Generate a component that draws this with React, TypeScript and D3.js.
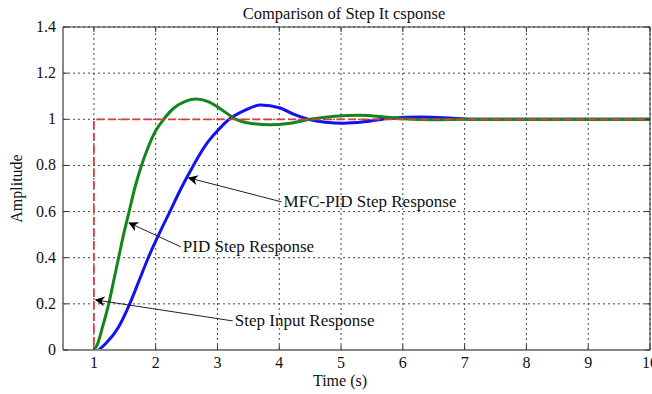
import React from 'react';
import * as d3 from 'd3';

// values
const stepT = [0.5, 1, 1, 10];
const stepV = [0, 0, 1, 1];

const pidT = [1.0, 1.05, 1.14, 1.24, 1.32, 1.40, 1.48, 1.57, 1.66, 1.77, 1.88, 2.0, 2.13, 2.3, 2.48, 2.65, 2.85, 3.05, 3.3, 3.55, 3.85, 4.15, 4.5, 4.9, 5.3, 5.7, 6.0, 6.5, 7.0, 10];
const pidV = [0, 0.02, 0.1, 0.2, 0.3, 0.4, 0.5, 0.6, 0.7, 0.8, 0.88, 0.95, 1.0, 1.05, 1.078, 1.088, 1.077, 1.045, 1.0, 0.982, 0.976, 0.982, 1.0, 1.013, 1.017, 1.01, 1.002, 0.998, 1.0, 1.0];

const mfcT = [1.08, 1.2, 1.4, 1.58, 1.73, 1.88, 2.05, 2.23, 2.41, 2.61, 2.8, 3.0, 3.19, 3.45, 3.7, 4.0, 4.25, 4.47, 4.75, 5.04, 5.4, 5.8, 6.3, 6.8, 7.2, 10];
const mfcV = [0, 0.03, 0.1, 0.2, 0.3, 0.4, 0.5, 0.6, 0.7, 0.8, 0.885, 0.95, 1.0, 1.04, 1.062, 1.05, 1.02, 1.0, 0.987, 0.983, 0.99, 1.005, 1.01, 1.005, 1.0, 1.0];

const xTicks = [1, 2, 3, 4, 5, 6, 7, 8, 9, 10];
const yTicks = [0, 0.2, 0.4, 0.6, 0.8, 1, 1.2, 1.4];

// annotation: label, arrow tip (t, v), label anchor (t, v)
const notes = [
  { label: 'MFC-PID Step Response', tip: [2.535, 0.746], at: [4.07, 0.642] },
  { label: 'PID Step Response', tip: [1.57, 0.551], at: [2.44, 0.447] },
  { label: 'Step Input Response', tip: [1.03, 0.217], at: [3.28, 0.126] },
];

const W = 652;
const H = 394;
const margin = { top: 27, right: 2, bottom: 44, left: 63 };
const FONT = '"Liberation Serif", "DejaVu Serif", serif';

const App = () => {
  const x = d3.scaleLinear().domain([0.5, 10]).range([margin.left, W - margin.right]);
  const y = d3.scaleLinear().domain([0, 1.4]).range([H - margin.bottom, margin.top]);

  const line = d3.line<[number, number]>()
    .x(d => x(d[0]))
    .y(d => y(d[1]));
  const smooth = d3.line<[number, number]>()
    .x(d => x(d[0]))
    .y(d => y(d[1]))
    .curve(d3.curveMonotoneX);

  const zip = (a: number[], b: number[]) => a.map((t, i) => [t, b[i]] as [number, number]);

  const x0 = x.range()[0], x1 = x.range()[1];
  const y0 = y.range()[0], y1 = y.range()[1];

  return (
    <svg width={W} height={H} style={{ position: 'absolute', left: 0, top: 0, background: '#fff' }}
      fontFamily={FONT}>
      <defs>
        <marker id="arr" viewBox="0 0 10 10" refX="9" refY="5" markerWidth="10" markerHeight="10" orient="auto-start-reverse"
          markerUnits="userSpaceOnUse">
          <path d="M0,0 L10,5 L0,10 L3,5 z" fill="#000" />
        </marker>
      </defs>

      {/* grid */}
      {xTicks.map(t => (
        <line key={'gx' + t} x1={x(t)} x2={x(t)} y1={y0} y2={y1} stroke="#444" strokeWidth={1} strokeDasharray="2,3" />
      ))}
      {yTicks.map(v => (
        <line key={'gy' + v} x1={x0} x2={x1} y1={y(v)} y2={y(v)} stroke="#444" strokeWidth={1} strokeDasharray="2,3" />
      ))}

      {/* series */}
      <path d={smooth(zip(mfcT, mfcV)) || ''} fill="none" stroke="#1212f0" strokeWidth={3} />
      <path d={smooth(zip(pidT, pidV)) || ''} fill="none" stroke="#12861a" strokeWidth={3} />
      <path d={line(zip(stepT, stepV)) || ''} fill="none" stroke="#e8383a" strokeWidth={1.8} strokeDasharray="8,4" />

      {/* box and ticks */}
      <line x1={x0} x2={x1} y1={y1} y2={y1} stroke="#333" strokeWidth={1} />
      <line x1={x1} x2={x1} y1={y1} y2={y0} stroke="#333" strokeWidth={1} />
      <line x1={x0} x2={x1} y1={y0} y2={y0} stroke="#888" strokeWidth={2} />
      <line x1={x0} x2={x0} y1={y1} y2={y0} stroke="#888" strokeWidth={2} />
      {xTicks.map(t => (
        <g key={'tx' + t}>
          <line x1={x(t)} x2={x(t)} y1={y0} y2={y0 - 5} stroke="#333" />
          <line x1={x(t)} x2={x(t)} y1={y1} y2={y1 + 5} stroke="#333" />
          <text x={x(t)} y={y0 + 18} textAnchor="middle" fontSize={16} fill="#111">{t}</text>
        </g>
      ))}
      {yTicks.map(v => (
        <g key={'ty' + v}>
          <line x1={x0} x2={x0 + 5} y1={y(v)} y2={y(v)} stroke="#333" />
          <line x1={x1} x2={x1 - 5} y1={y(v)} y2={y(v)} stroke="#333" />
          <text x={x0 - 7} y={y(v) + 5} textAnchor="end" fontSize={16} fill="#111">{v}</text>
        </g>
      ))}

      {/* annotations */}
      {notes.map(n => (
        <g key={n.label}>
          <line x1={x(n.at[0]) - 2} y1={y(n.at[1])} x2={x(n.tip[0])} y2={y(n.tip[1])} stroke="#222" strokeWidth={1}
            markerEnd="url(#arr)" />
          <text x={x(n.at[0])} y={y(n.at[1]) + 5} fontSize={17} fill="#111">{n.label}</text>
        </g>
      ))}

      {/* titles */}
      <text x={344} y={19} textAnchor="middle" fontSize={16.5} fill="#111">Comparison of Step It csponse</text>
      <text x={340} y={386} textAnchor="middle" fontSize={16} fill="#111">Time (s)</text>
      <text transform={`translate(22,${(y0 + y1) / 2}) rotate(-90)`} textAnchor="middle" fontSize={16} fill="#111">Amplitude</text>
    </svg>
  );
};

export default App;
